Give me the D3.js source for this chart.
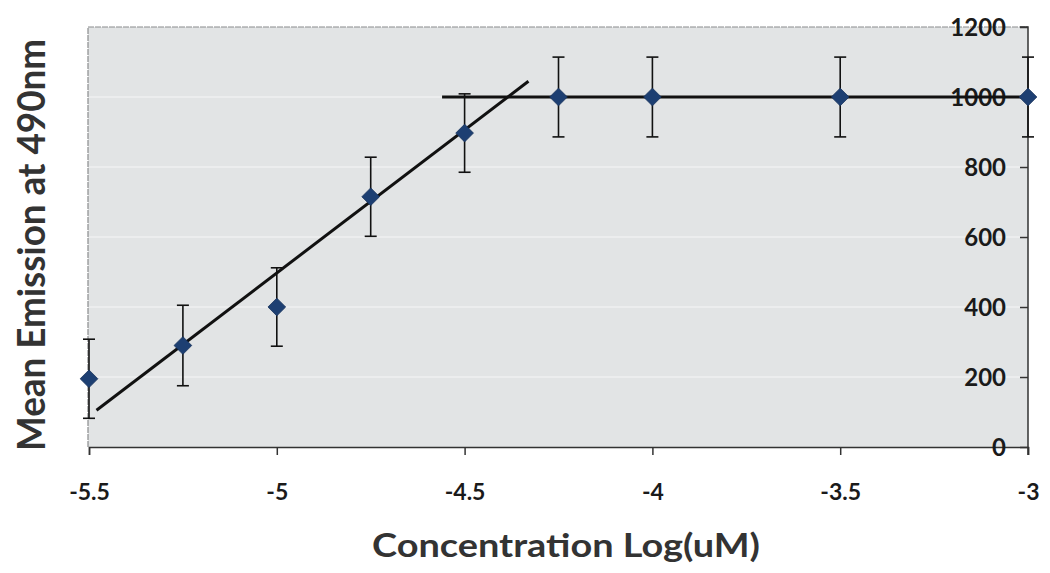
<!DOCTYPE html>
<html lang="en">
<head>
<meta charset="UTF-8">
<title>Mean Emission vs Concentration</title>
<script src="https://d3js.org/d3.v7.min.js"></script>
<style>
    body { margin: 0; background: #fff; }
    svg text { font-family: Lato, 'Open Sans', sans-serif; font-weight: bold; }
</style>
</head>
<body>
<div id="chart"></div>
<script>
    // data
    const logConc = [-5.5, -5.25, -5, -4.75, -4.5, -4.25, -4, -3.5, -3];
    const emission = [195, 290, 400, 715, 897, 1000, 1000, 1000, 1000];
    const errors = [113, 115, 112, 113, 112, 114, 114, 114, 114];
    const riseLine = [[-5.48, 105], [-4.33, 1045]];
    const plateauLine = [[-4.56, 1000], [-3, 1000]];
    const xTicks = [-5.5, -5, -4.5, -4, -3.5, -3];
    const yTicks = [0, 200, 400, 600, 800, 1000, 1200];

    const width = 1050, height = 573;
    const margin = { top: 27, right: 22, bottom: 126, left: 89 };
    const w = width - margin.left - margin.right;
    const h = height - margin.top - margin.bottom;

    const svg = d3.select('#chart').append('svg')
        .attr('width', width)
        .attr('height', height);

    const g = svg.append('g')
        .attr('transform', `translate(${margin.left},${margin.top})`);

    const x = d3.scaleLinear().domain([-5.5, -3]).range([0, w]);
    const y = d3.scaleLinear().domain([0, 1200]).range([h, 0]);

    // plot background
    g.append('rect')
        .attr('x', -1).attr('y', 0)
        .attr('width', w + 1).attr('height', h)
        .attr('fill', '#e2e4e5');

    // faint light gridlines
    g.selectAll('.grid')
        .data(yTicks.filter(d => d > 0 && d < 1200))
        .join('line')
        .attr('class', 'grid')
        .attr('x1', 0).attr('x2', w)
        .attr('y1', d => y(d)).attr('y2', d => y(d))
        .attr('stroke', '#eff0f0')
        .attr('stroke-width', 1.5);

    // top / left border
    g.append('path')
        .attr('d', `M-1,${h}V0H${w}`)
        .attr('fill', 'none')
        .attr('stroke', '#8a8c8d')
        .attr('stroke-width', 1.2)
        .attr('stroke-dasharray', '6,1');

    // x axis (plain hyphen minus, no thousands comma)
    const xAxis = g.append('g')
        .attr('transform', `translate(0,${h})`)
        .call(d3.axisBottom(x).tickValues(xTicks).tickFormat(d => String(d)).tickSize(8).tickPadding(29));
    xAxis.select('.domain').attr('stroke', '#333').attr('stroke-width', 1.5);
    xAxis.selectAll('.tick line').attr('stroke', '#333').attr('stroke-width', 1.5);
    xAxis.selectAll('text').attr('fill', '#1a1a1a').style('font-size', '23px');

    // y axis on the right, labels inside
    const yAxis = g.append('g')
        .attr('transform', `translate(${w},0)`)
        .call(d3.axisLeft(y).tickValues(yTicks).tickFormat(d => String(d)).tickSize(8).tickPadding(14));
    yAxis.select('.domain').attr('stroke', '#333').attr('stroke-width', 1.5)
        .attr('d', `M-8,0H0V${h + 8}`);
    yAxis.selectAll('.tick line').attr('stroke', '#333').attr('stroke-width', 1.5);
    yAxis.selectAll('text').attr('fill', '#1a1a1a').style('font-size', '24px').attr('dy', '0.36em');

    // trend lines
    const line = d3.line().x(d => x(d[0])).y(d => y(d[1]));
    [riseLine, plateauLine].forEach(seg => {
        g.append('path')
            .attr('d', line(seg))
            .attr('fill', 'none')
            .attr('stroke', '#111')
            .attr('stroke-width', 3);
    });

    const pts = logConc.map((c, i) => ({ c, v: emission[i], e: errors[i] }));

    // error bars
    const eb = g.selectAll('.err').data(pts).join('g').attr('class', 'err')
        .attr('stroke', '#111').attr('stroke-width', 1.6);
    eb.append('line')
        .attr('x1', d => x(d.c)).attr('x2', d => x(d.c))
        .attr('y1', d => y(d.v + d.e)).attr('y2', d => y(d.v - d.e));
    eb.append('line')
        .attr('x1', d => x(d.c) - 6).attr('x2', d => x(d.c) + 6)
        .attr('y1', d => y(d.v + d.e)).attr('y2', d => y(d.v + d.e));
    eb.append('line')
        .attr('x1', d => x(d.c) - 6).attr('x2', d => x(d.c) + 6)
        .attr('y1', d => y(d.v - d.e)).attr('y2', d => y(d.v - d.e));

    // diamond markers
    g.selectAll('.pt').data(pts).join('path')
        .attr('class', 'pt')
        .attr('d', d3.symbol(d3.symbolDiamond2, 200))
        .attr('transform', d => `translate(${x(d.c)},${y(d.v)})`)
        .attr('fill', '#1d3f72')
        .attr('stroke', '#16315a')
        .attr('stroke-width', 0.8);

    // axis titles
    svg.append('text')
        .attr('x', 566).attr('y', 557)
        .attr('text-anchor', 'middle')
        .attr('fill', '#333')
        .attr('textLength', 388)
        .attr('lengthAdjust', 'spacingAndGlyphs')
        .style('font-size', '33px')
        .text('Concentration Log(uM)');

    svg.append('text')
        .attr('transform', 'translate(45,245) rotate(-90)')
        .attr('text-anchor', 'middle')
        .attr('fill', '#333')
        .attr('textLength', 412)
        .attr('lengthAdjust', 'spacingAndGlyphs')
        .style('font-size', '38px')
        .text('Mean Emission at 490nm');
</script>
</body>
</html>
